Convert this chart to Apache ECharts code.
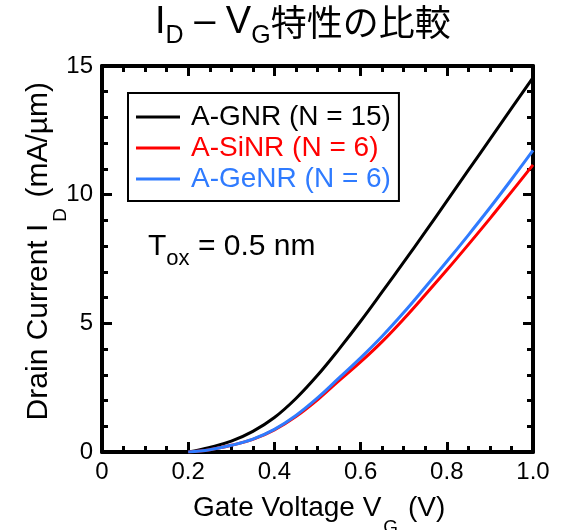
<!DOCTYPE html>
<html>
<head>
<meta charset="utf-8">
<script src="https://cdn.jsdelivr.net/npm/echarts@6/dist/echarts.min.js"></script>
<style>
html,body{margin:0;padding:0;background:#fff;}
#chart{width:565px;height:530px;}
</style>
</head>
<body>
<div id="chart"></div>
<script>
// Gate voltage V_G (V)
const vg = [0.2, 0.25, 0.3, 0.35, 0.4, 0.45, 0.5, 0.55, 0.6, 0.65, 0.7, 0.75, 0.8, 0.85, 0.9, 0.95, 1.0];
// Drain current I_D (mA/um)
const gnr  = [0, 0.18, 0.42, 0.80, 1.34, 2.08, 2.98, 4.00, 5.08, 6.22, 7.38, 8.55, 9.75, 10.95, 12.15, 13.35, 14.55];
const sinr = [0, 0.09, 0.26, 0.49, 0.86, 1.38, 2.03, 2.77, 3.50, 4.29, 5.17, 6.11, 7.07, 8.06, 9.07, 10.11, 11.16];
const genr = [0, 0.09, 0.26, 0.50, 0.88, 1.42, 2.10, 2.88, 3.66, 4.50, 5.42, 6.40, 7.40, 8.43, 9.49, 10.59, 11.72];
const seriesNames = ['A-GNR (N = 15)', 'A-SiNR (N = 6)', 'A-GeNR (N = 6)'];
const seriesColors = ['#000000', '#ff0000', '#2f7bff'];

const FONT = 'Liberation Sans, Arial, sans-serif';
const JFONT = 'Noto Sans CJK JP, sans-serif';

const chart = echarts.init(document.getElementById('chart'), null, {renderer: 'canvas'});
const zip = (ys) => vg.map((v, i) => [v, ys[i]]);
const allSeries = [gnr, sinr, genr];

function makeAxis(pos, min, max, interval, minorSplit, showLabel, fmt, margin) {
  return {
    type: 'value', position: pos, min: min, max: max, interval: interval,
    axisLine: {show: true, onZero: false, lineStyle: {color: '#000', width: 4, opacity: 1}},
    axisTick: {show: true, inside: true, length: 10, lineStyle: {color: '#000', width: 3, opacity: 1}},
    minorTick: {show: true, splitNumber: minorSplit, length: 6, lineStyle: {color: '#000', width: 3, opacity: 1}},
    splitLine: {show: false},
    axisLabel: showLabel ? {show: true, color: '#000', fontSize: 24, fontFamily: FONT, margin: margin, formatter: fmt} : {show: false}
  };
}

const option = {
  animation: false,
  backgroundColor: '#fff',
  grid: {left: 102, right: 32, top: 66, bottom: 78, containLabel: false},
  xAxis: [
    makeAxis('bottom', 0, 1, 0.2, 4, true, (v) => (v === 0 ? '0' : v.toFixed(1)), 8),
    makeAxis('top', 0, 1, 0.2, 4, false, null, 0)
  ],
  yAxis: [
    makeAxis('left', 0, 15, 5, 5, true, (v) => String(v), 9),
    makeAxis('right', 0, 15, 5, 5, false, null, 0)
  ],
  legend: {
    orient: 'vertical', left: 128, top: 93,
    itemWidth: 44, itemHeight: 3, itemGap: 3, icon: 'rect',
    padding: [10, 8, 8, 8],
    borderColor: '#000', borderWidth: 2, backgroundColor: '#fff',
    textStyle: {fontSize: 28, lineHeight: 28, fontFamily: FONT, padding: [0, 0, 0, 6]},
    selectedMode: false,
    data: seriesNames.map((n, i) => ({name: n, textStyle: {color: seriesColors[i]}}))
  },
  series: allSeries.map((ys, i) => ({
    type: 'line', name: seriesNames[i], data: zip(ys),
    xAxisIndex: 0, yAxisIndex: 0,
    smooth: 0.4, showSymbol: false, symbol: 'none',
    lineStyle: {color: seriesColors[i], width: 3},
    itemStyle: {color: seriesColors[i]},
    z: 2 + i
  })),
  graphic: [
    {
      type: 'text', left: 155, top: 4,
      style: {
        text: '{a|I}{s|D}{a| – V}{s|G}{j|特性の比較}',
        rich: {
          a: {fontSize: 38, fontFamily: FONT, fill: '#000', lineHeight: 44, verticalAlign: 'top'},
          s: {fontSize: 25, fontFamily: FONT, fill: '#000', lineHeight: 30, padding: [20, 0, 0, 0], verticalAlign: 'top'},
          j: {fontSize: 36, fontFamily: JFONT, fill: '#000', lineHeight: 44, verticalAlign: 'top'}
        }
      }
    },
    {
      type: 'text', left: 24, top: 82,
      style: {
        text: '{a|Drain Current I}{s|D}{a| (mA/µm)}',
        rich: {
          a: {fontSize: 30, fontFamily: FONT, fill: '#000', lineHeight: 34, verticalAlign: 'top'},
          s: {fontSize: 19, fontFamily: FONT, fill: '#000', lineHeight: 22, padding: [27, 2, 0, 2], verticalAlign: 'top'}
        }
      },
      rotation: Math.PI / 2
    },
    {
      type: 'text', left: 193, top: 494,
      style: {
        text: '{a|Gate Voltage V}{s|G}{a| (V)}',
        rich: {
          a: {fontSize: 28, fontFamily: FONT, fill: '#000', lineHeight: 32, verticalAlign: 'top'},
          s: {fontSize: 19, fontFamily: FONT, fill: '#000', lineHeight: 22, padding: [24, 2, 0, 2], verticalAlign: 'top'}
        }
      }
    },
    {
      type: 'text', left: 148, top: 232,
      style: {
        text: '{a|T}{s|ox}{a| = 0.5 nm}',
        rich: {
          a: {fontSize: 30, fontFamily: FONT, fill: '#000', lineHeight: 34, verticalAlign: 'top'},
          s: {fontSize: 22, fontFamily: FONT, fill: '#000', lineHeight: 25, padding: [16, 0, 0, 0], verticalAlign: 'top'}
        }
      }
    }
  ]
};
chart.setOption(option);
</script>
</body>
</html>
